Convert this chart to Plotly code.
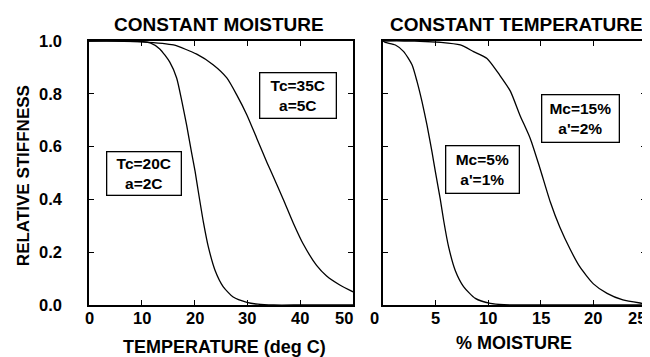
import plotly.graph_objects as go

# ---- data ----
temp_tc20 = [0, 5, 10, 11.6, 13.4, 15.3, 16.6, 17.6, 18.5, 19.4, 20.1, 20.7, 21.7, 22.6, 23.9, 25.4, 27.3, 29.9, 32, 35, 40, 45, 50]
stiff_tc20 = [1.0, 1.0, 0.998, 0.993, 0.97, 0.92, 0.86, 0.77, 0.68, 0.58, 0.505, 0.43, 0.31, 0.22, 0.13, 0.07, 0.03, 0.01, 0.003, 0.0, 0.0, 0.0, 0.0]

temp_tc35 = [0, 5, 10, 16, 20.4, 23.5, 26.1, 28, 29.9, 31.8, 33.7, 34.6, 36.8, 38.7, 40.6, 43.1, 45, 47.5, 50]
stiff_tc35 = [1.0, 1.0, 0.997, 0.985, 0.95, 0.91, 0.86, 0.795, 0.72, 0.63, 0.54, 0.50, 0.40, 0.31, 0.23, 0.15, 0.11, 0.076, 0.05]

moist_mc5 = [0, 0.2, 1.17, 1.96, 2.75, 3.23, 3.7, 4.18, 4.65, 4.97, 5.44, 5.76, 6.23, 6.87, 7.65, 8.77, 10.2, 11.5, 13, 25]
stiff_mc5 = [1.0, 0.995, 0.985, 0.96, 0.91, 0.846, 0.77, 0.68, 0.58, 0.505, 0.40, 0.32, 0.22, 0.13, 0.07, 0.025, 0.006, 0.001, 0.0, 0.0]

moist_mc15 = [0, 2, 4, 5.5, 7.34, 8.6, 9.88, 11.1, 12.1, 13.0, 14.0, 14.9, 15.9, 16.8, 17.8, 18.7, 20, 21.3, 22.8, 24.7, 25]
stiff_mc15 = [1.0, 1.0, 0.998, 0.995, 0.985, 0.96, 0.934, 0.87, 0.81, 0.72, 0.63, 0.52, 0.39, 0.295, 0.21, 0.145, 0.08, 0.044, 0.019, 0.006, 0.004]

temp_ticks = [0, 10, 20, 30, 40, 50]
temp_ticktext = ["0", "10", "20", "30", "40", "50"]
moist_ticks = [0, 5, 10, 15, 20, 25]
moist_ticktext = ["0", "5", "10", "15", "20", "25"]
y_ticks = [0.0, 0.2, 0.4, 0.6, 0.8, 1.0]
y_ticktext = ["0.0", "0.2", "0.4", "0.6", "0.8", "1.0"]

FONT = "Liberation Sans, Arial, Helvetica, sans-serif"

fig = go.Figure()
line = dict(color="black", width=1.3, shape="spline", smoothing=0.6)
fig.add_trace(go.Scatter(x=temp_tc20, y=stiff_tc20, mode="lines", line=line, xaxis="x", yaxis="y", showlegend=False))
fig.add_trace(go.Scatter(x=temp_tc35, y=stiff_tc35, mode="lines", line=line, xaxis="x", yaxis="y", showlegend=False))
fig.add_trace(go.Scatter(x=moist_mc5, y=stiff_mc5, mode="lines", line=line, xaxis="x2", yaxis="y2", showlegend=False))
fig.add_trace(go.Scatter(x=moist_mc15, y=stiff_mc15, mode="lines", line=line, xaxis="x2", yaxis="y2", showlegend=False))

tickfont = dict(family=FONT, size=16.5, color="black", weight="bold")
common = dict(ticks="inside", ticklen=5, tickwidth=1.2, tickcolor="black", mirror="ticks",
              showline=True, linecolor="black", linewidth=1.5, showgrid=False, zeroline=False,
              tickfont=tickfont)

# page body has an 8px margin, so the figure is drawn 8px smaller
fig.update_layout(
    width=642, height=349,
    margin=dict(l=81, r=4, t=33, b=52, autoexpand=False),
    paper_bgcolor="white", plot_bgcolor="white",
    xaxis=dict(domain=[0, 0.474], range=[0, 50], tickvals=temp_ticks, showticklabels=False, anchor="y", **common),
    yaxis=dict(domain=[0, 1], range=[0, 1], tickvals=y_ticks, ticktext=y_ticktext, anchor="x",
               ticklabelstandoff=22, **common),
    xaxis2=dict(domain=[0.528, 1], range=[0, 25], tickvals=moist_ticks, showticklabels=False, anchor="y2", **common),
    yaxis2=dict(domain=[0, 1], range=[0, 1], tickvals=y_ticks, anchor="x2", showticklabels=False, **common),
)

# x tick labels (placed through the axes; end labels nudged left as in the reference)
for v, t in zip(temp_ticks, temp_ticktext):
    fig.add_annotation(text=t, x=v, xref="x", y=-0.05, yref="paper", showarrow=False,
                       font=tickfont, xanchor="center", yanchor="middle",
                       xshift=-9 if v == temp_ticks[-1] else 0)
for v, t in zip(moist_ticks, moist_ticktext):
    shift = -9 if v in (moist_ticks[0], moist_ticks[-1]) else 0
    fig.add_annotation(text=t, x=v, xref="x2", y=-0.05, yref="paper", showarrow=False,
                       font=tickfont, xanchor="center", yanchor="middle", xshift=shift)

boxfont = dict(family=FONT, size=15.5, color="black", weight="bold")
def box(text, x, y, xref, yref, w, h):
    fig.add_annotation(text=text, x=x, y=y, xref=xref, yref=yref, showarrow=False,
                       font=boxfont, bordercolor="black", borderwidth=1.3, bgcolor="white",
                       width=w, height=h, align="center", valign="middle",
                       xanchor="center", yanchor="middle")

box("Tc=20C<br>a=2C", 10.5, 0.50, "x", "y", 71, 40)
box("Tc=35C<br>a=5C", 39.6, 0.793, "x", "y", 73, 42)
box("Mc=5%<br>a'=1%", 9.5, 0.513, "x2", "y2", 70, 44)
box("Mc=15%<br>a'=2%", 18.8, 0.705, "x2", "y2", 74, 44)

titlefont = dict(family=FONT, size=19, color="black", weight="bold")
fig.add_annotation(text="CONSTANT MOISTURE", x=0.233, y=1.062, xref="paper", yref="paper",
                   showarrow=False, font=titlefont, xanchor="center", yanchor="middle")
fig.add_annotation(text="CONSTANT TEMPERATURE", x=0.768, y=1.062, xref="paper", yref="paper",
                   showarrow=False, font=titlefont, xanchor="center", yanchor="middle")
fig.add_annotation(text="TEMPERATURE (deg C)", x=0.244, y=-0.16, xref="paper", yref="paper",
                   showarrow=False, font=dict(family=FONT, size=18, color="black", weight="bold"),
                   xanchor="center", yanchor="middle")
fig.add_annotation(text="% MOISTURE", x=0.763, y=-0.143, xref="paper", yref="paper",
                   showarrow=False, font=dict(family=FONT, size=18, color="black", weight="bold"),
                   xanchor="center", yanchor="middle")
fig.add_annotation(text="RELATIVE STIFFNESS", x=-0.1176, y=0.49, xref="paper", yref="paper",
                   showarrow=False, textangle=-90,
                   font=dict(family=FONT, size=17, color="black", weight="bold"),
                   xanchor="center", yanchor="middle")

fig.write_html("out.html")
